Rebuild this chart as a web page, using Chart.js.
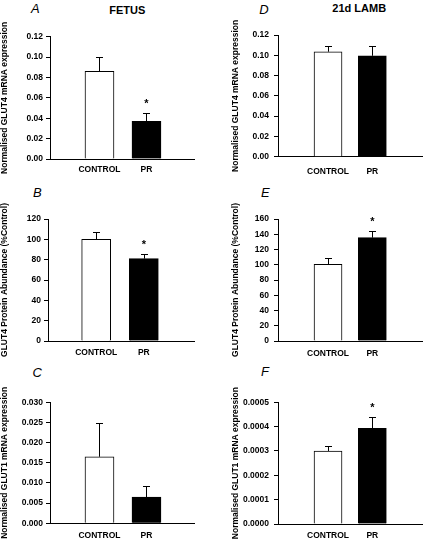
<!DOCTYPE html>
<html><head><meta charset="utf-8">
<script src="https://cdn.jsdelivr.net/npm/chart.js@4"></script>
<style>
html,body{margin:0;padding:0;background:#fff;}
body{width:424px;height:542px;position:relative;overflow:hidden;font-family:'Liberation Sans',Arial,sans-serif;}
canvas{position:absolute;}
.lt{position:absolute;font-style:italic;font-size:13px;line-height:13px;color:#000;white-space:nowrap;}
.tt{position:absolute;font-weight:bold;font-size:11px;line-height:11px;color:#000;text-align:center;width:100px;white-space:nowrap;}
</style></head><body>
<div class="lt" style="left:31px;top:2.3px">A</div>
<div class="lt" style="left:33px;top:186.3px">B</div>
<div class="lt" style="left:32.6px;top:365.7px">C</div>
<div class="lt" style="left:259.3px;top:3.3px">D</div>
<div class="lt" style="left:261px;top:186.3px">E</div>
<div class="lt" style="left:261px;top:364.7px">F</div>
<div class="tt" style="left:77.3px;top:4.7px">FETUS</div>
<div class="tt" style="left:309.2px;top:3px">21d LAMB</div>
<canvas id="cA"></canvas>
<canvas id="cB"></canvas>
<canvas id="cC"></canvas>
<canvas id="cD"></canvas>
<canvas id="cE"></canvas>
<canvas id="cF"></canvas>
<script>
// ---- data ----
const categories = ['CONTROL', 'PR'];
const barColors = ['#ffffff', '#000000'];

const valuesA = [0.086, 0.037];
const errorsA = [0.014, 0.008];
const starsA = ['', '*'];
const ticksA = ['0.00', '0.02', '0.04', '0.06', '0.08', '0.10', '0.12'];
const titleA = 'Normalised GLUT4 mRNA expression';

const valuesB = [100, 81];
const errorsB = [7.5, 5];
const starsB = ['', '*'];
const ticksB = ['0', '20', '40', '60', '80', '100', '120'];
const titleB = 'GLUT4 Protein Abundance (%Control)';

const valuesC = [0.0165, 0.0065];
const errorsC = [0.0083, 0.0028];
const starsC = ['', ''];
const ticksC = ['0.000', '0.005', '0.010', '0.015', '0.020', '0.025', '0.030'];
const titleC = 'Normalised GLUT1 mRNA expression';

const valuesD = [0.1035, 0.0995];
const errorsD = [0.0057, 0.0098];
const starsD = ['', ''];
const ticksD = ['0.00', '0.02', '0.04', '0.06', '0.08', '0.10', '0.12'];
const titleD = 'Normalised GLUT4 mRNA expression';

const valuesE = [100.5, 135.5];
const errorsE = [9, 9];
const starsE = ['', '*'];
const ticksE = ['0', '20', '40', '60', '80', '100', '120', '140', '160'];
const titleE = 'GLUT4 Protein Abundance (%Control)';

const valuesF = [0.0003, 0.000393];
const errorsF = [0.00002, 0.000048];
const starsF = ['', '*'];
const ticksF = ['0.0000', '0.0001', '0.0002', '0.0003', '0.0004', '0.0005'];
const titleF = 'Normalised GLUT1 mRNA expression';

// ---- layout ----
const FONT = "'Liberation Sans', Arial, sans-serif";
const leftCol = {x: 0, w: 212, padRight: 18, xMin: -0.053, xMax: 3.011, barW: 29, tickPad: 3, titlePad: 0};
const rightCol = {x: 212, w: 212, padRight: 2, xMin: -0.129, xMax: 3.121, barW: 28, tickPad: 5, titlePad: 18.5};

function makeChart(id, col, row, values, errors, stars, tickLabels, yTitle) {
  const cv = document.getElementById(id);
  cv.width = col.w; cv.height = row.h;
  cv.style.left = col.x + 'px'; cv.style.top = row.y + 'px';
  cv.style.width = col.w + 'px'; cv.style.height = row.h + 'px';
  const tickValues = tickLabels.map(parseFloat);
  const errPlugin = {
    id: 'errbars_' + id,
    afterDatasetsDraw(chart) {
      const ctx = chart.ctx, y = chart.scales.y;
      const meta = chart.getDatasetMeta(0);
      ctx.save();
      ctx.strokeStyle = '#000'; ctx.lineWidth = 1;
      meta.data.forEach((bar, i) => {
        const x = Math.round(bar.x) + 0.5;
        const yb = y.getPixelForValue(values[i]);
        const yt = Math.round(y.getPixelForValue(values[i] + errors[i])) + 0.5;
        ctx.beginPath();
        ctx.moveTo(x, yb); ctx.lineTo(x, yt);
        ctx.moveTo(x - 3.5, yt); ctx.lineTo(x + 3.5, yt);
        ctx.stroke();
        if (stars[i]) {
          ctx.fillStyle = '#000';
          ctx.font = 'bold 11px ' + FONT;
          ctx.textAlign = 'center'; ctx.textBaseline = 'alphabetic';
          ctx.fillText(stars[i], bar.x, yt - 6.5);
        }
      });
      ctx.restore();
    }
  };
  return new Chart(cv, {
    type: 'bar',
    data: {
      datasets: [{
        data: categories.map((c, i) => ({x: i + 1, y: values[i]})),
        backgroundColor: barColors,
        borderColor: '#000',
        borderWidth: 1,
        barThickness: col.barW
      }]
    },
    options: {
      responsive: false,
      animation: false,
      devicePixelRatio: 1,
      layout: {padding: {top: row.top, right: col.padRight, bottom: 0, left: 0}},
      plugins: {legend: {display: false}, tooltip: {enabled: false}, title: {display: false}},
      scales: {
        x: {
          type: 'linear', min: col.xMin, max: col.xMax, offset: false,
          grid: {display: false, drawTicks: false, tickLength: 0},
          border: {display: true, color: '#000', width: 1},
          afterBuildTicks: (s) => { s.ticks = categories.map((c, i) => ({value: i + 1})); },
          afterFit: (s) => { s.height = row.xH; },
          ticks: {
            autoSkip: false, maxRotation: 0, padding: row.xPad, color: '#000',
            font: {family: FONT, size: 8.5, weight: 'bold'},
            callback: (v, i) => categories[i]
          }
        },
        y: {
          min: tickValues[0], max: tickValues[tickValues.length - 1],
          grid: {display: true, drawOnChartArea: false, drawTicks: true, tickLength: 4, color: '#000', lineWidth: 1},
          border: {display: true, color: '#000', width: 1},
          afterBuildTicks: (s) => { s.ticks = tickValues.map(v => ({value: v})); },
          afterFit: (s) => { s.width = col.yW; },
          ticks: {
            padding: col.tickPad, color: '#000',
            font: {family: FONT, size: 8.5, weight: 'bold'},
            callback: (v, i) => tickLabels[i]
          },
          title: {
            display: true, text: yTitle, color: '#000',
            font: {family: FONT, size: 8.5, weight: 'bold'},
            padding: {top: col.titlePad, bottom: 0}
          }
        }
      }
    },
    plugins: [errPlugin]
  });
}

makeChart('cA', Object.assign({}, leftCol, {yW: 50}), {y: 0, h: 180, top: 36.7, xH: 21, xPad: 6}, valuesA, errorsA, starsA, ticksA, titleA);
makeChart('cB', Object.assign({}, leftCol, {yW: 48, xMin: -0.011, xMax: 3.053}), {y: 180, h: 180, top: 39, xH: 19, xPad: 7}, valuesB, errorsB, starsB, ticksB, titleB);
makeChart('cC', Object.assign({}, leftCol, {yW: 50}), {y: 360, h: 182, top: 42.3, xH: 18.7, xPad: 7}, valuesC, errorsC, starsC, ticksC, titleC);
makeChart('cD', Object.assign({}, rightCol, {yW: 66}), {y: 0, h: 180, top: 35, xH: 23.3, xPad: 10}, valuesD, errorsD, starsD, ticksD, titleD);
makeChart('cE', Object.assign({}, rightCol, {yW: 66}), {y: 180, h: 180, top: 39, xH: 19, xPad: 7.5}, valuesE, errorsE, starsE, ticksE, titleE);
makeChart('cF', Object.assign({}, rightCol, {yW: 66}), {y: 360, h: 182, top: 42.3, xH: 18, xPad: 6.5}, valuesF, errorsF, starsF, ticksF, titleF);
</script>
</body></html>
